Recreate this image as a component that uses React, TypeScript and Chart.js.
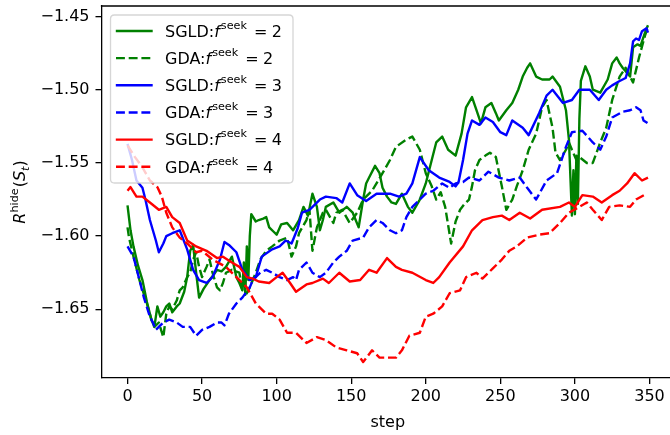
import React, { useEffect, useRef } from 'react';
import { Chart, registerables } from 'chart.js';

Chart.register(...registerables);

const FONT = 'DejaVu Sans';

const xTicks = [0, 50, 100, 150, 200, 250, 300, 350];
const yTicks = [-1.65, -1.6, -1.55, -1.5, -1.45];
const xLabel = 'step';

const legendMethods = ['SGLD', 'GDA', 'SGLD', 'GDA', 'SGLD', 'GDA'];
const legendSeek = ['2', '2', '3', '3', '4', '4'];
const seriesColors = ['#008000', '#008000', '#0000ff', '#0000ff', '#ff0000', '#ff0000'];
const seriesDashed = [false, true, false, true, false, true];

const sgld2: number[][] = [
  [0, -1.579], [2, -1.596], [4, -1.607], [7, -1.62], [10, -1.63], [13, -1.645], [16, -1.657], [18, -1.662],
  [20, -1.648], [22, -1.655], [24, -1.652], [26, -1.648], [28, -1.646], [30, -1.652], [33, -1.648], [35, -1.646],
  [38, -1.638], [40, -1.628], [42, -1.61], [44, -1.606], [46, -1.625], [48, -1.642], [51, -1.636], [55, -1.63],
  [58, -1.626], [60, -1.623], [63, -1.624], [66, -1.621], [70, -1.614], [73, -1.628], [75, -1.632], [77, -1.637],
  [78, -1.618], [79, -1.64], [80, -1.607], [81, -1.63], [82, -1.6], [83, -1.585], [86, -1.59], [88, -1.589],
  [91, -1.588], [93, -1.587], [95, -1.594], [98, -1.597], [100, -1.599], [103, -1.592], [107, -1.591], [111, -1.596],
  [115, -1.589], [118, -1.58], [121, -1.586], [124, -1.571], [127, -1.58], [129, -1.596], [131, -1.589], [133, -1.58],
  [138, -1.577], [142, -1.584], [147, -1.58], [151, -1.584], [155, -1.594], [158, -1.575], [160, -1.564], [162, -1.56],
  [166, -1.552], [169, -1.557], [171, -1.567], [174, -1.573], [177, -1.577], [180, -1.578], [184, -1.571], [188, -1.58],
  [191, -1.584], [196, -1.575], [200, -1.564], [204, -1.548], [207, -1.536], [211, -1.532], [215, -1.541], [220, -1.545],
  [224, -1.53], [227, -1.512], [231, -1.505], [234, -1.514], [237, -1.523], [240, -1.512], [244, -1.509], [247, -1.516],
  [249, -1.521], [254, -1.514], [258, -1.509], [262, -1.5], [265, -1.491], [268, -1.485], [270, -1.482], [274, -1.491],
  [278, -1.493], [283, -1.493], [285, -1.491], [290, -1.498], [294, -1.514], [296, -1.534], [297, -1.56], [298, -1.586],
  [299, -1.555], [300, -1.585], [301, -1.545], [302, -1.578], [303, -1.52], [304, -1.494], [307, -1.484], [310, -1.491],
  [312, -1.5], [317, -1.502], [322, -1.493], [325, -1.482], [328, -1.478], [330, -1.482], [332, -1.485], [337, -1.491],
  [339, -1.471], [342, -1.469], [344, -1.47], [347, -1.461], [349, -1.456],
];

const gda2: number[][] = [
  [0, -1.594], [1, -1.601], [4, -1.614], [8, -1.63], [13, -1.646], [16, -1.657], [18, -1.662], [21, -1.659],
  [24, -1.669], [26, -1.653], [28, -1.648], [30, -1.65], [33, -1.644], [35, -1.637], [37, -1.635], [40, -1.628],
  [42, -1.625], [44, -1.616], [46, -1.611], [48, -1.621], [50, -1.628], [53, -1.621], [55, -1.616], [57, -1.625],
  [60, -1.635], [62, -1.637], [64, -1.632], [66, -1.625], [70, -1.623], [75, -1.625], [77, -1.637], [80, -1.639],
  [82, -1.635], [86, -1.625], [89, -1.616], [93, -1.61], [97, -1.607], [102, -1.603], [107, -1.601], [110, -1.614],
  [113, -1.607], [115, -1.598], [120, -1.589], [122, -1.582], [124, -1.61], [127, -1.594], [131, -1.584], [133, -1.582],
  [138, -1.591], [140, -1.584], [144, -1.582], [149, -1.591], [154, -1.584], [158, -1.575], [164, -1.569], [171, -1.557],
  [176, -1.548], [180, -1.539], [187, -1.534], [191, -1.532], [196, -1.541], [200, -1.557], [204, -1.566], [207, -1.575],
  [210, -1.57], [213, -1.58], [217, -1.605], [220, -1.59], [223, -1.582], [226, -1.578], [229, -1.575], [231, -1.566],
  [233, -1.555], [236, -1.548], [240, -1.545], [243, -1.543], [247, -1.546], [251, -1.566], [254, -1.582], [258, -1.575],
  [261, -1.566], [265, -1.555], [269, -1.541], [274, -1.53], [278, -1.512], [281, -1.507], [285, -1.526], [287, -1.543],
  [290, -1.548], [294, -1.541], [296, -1.536], [298, -1.541], [301, -1.548], [303, -1.546], [308, -1.55], [312, -1.55],
  [317, -1.536], [321, -1.526], [325, -1.507], [330, -1.491], [334, -1.485], [337, -1.491], [339, -1.495], [343, -1.478],
  [347, -1.463], [349, -1.457],
];

const sgld3: number[][] = [
  [0, -1.537], [3, -1.548], [6, -1.562], [10, -1.567], [12, -1.575], [15, -1.589], [17, -1.596], [19, -1.603],
  [21, -1.611], [24, -1.605], [26, -1.6], [30, -1.598], [35, -1.596], [40, -1.609], [44, -1.623], [48, -1.63],
  [53, -1.632], [57, -1.628], [62, -1.616], [65, -1.604], [68, -1.606], [73, -1.611], [77, -1.623], [82, -1.63],
  [86, -1.628], [90, -1.614], [97, -1.609], [102, -1.607], [106, -1.603], [110, -1.605], [114, -1.595], [117, -1.584],
  [122, -1.582], [129, -1.575], [133, -1.573], [140, -1.574], [144, -1.577], [149, -1.564], [154, -1.572], [160, -1.576],
  [167, -1.571], [176, -1.571], [182, -1.573], [187, -1.571], [191, -1.564], [196, -1.546], [202, -1.555], [209, -1.56],
  [216, -1.563], [220, -1.566], [222, -1.563], [225, -1.548], [228, -1.53], [231, -1.521], [236, -1.524], [240, -1.519],
  [245, -1.522], [250, -1.529], [254, -1.531], [258, -1.521], [265, -1.526], [269, -1.531], [276, -1.516], [281, -1.504],
  [285, -1.5], [292, -1.509], [298, -1.507], [303, -1.5], [310, -1.5], [316, -1.507], [321, -1.5], [325, -1.497],
  [330, -1.494], [334, -1.492], [337, -1.482], [339, -1.467], [341, -1.465], [343, -1.466], [345, -1.46], [348, -1.458],
  [349, -1.461],
];

const gda3: number[][] = [
  [0, -1.607], [4, -1.614], [8, -1.63], [11, -1.642], [15, -1.655], [17, -1.659], [19, -1.664], [22, -1.661],
  [24, -1.659], [28, -1.657], [33, -1.659], [37, -1.662], [42, -1.662], [46, -1.668], [50, -1.664], [55, -1.662],
  [60, -1.659], [63, -1.659], [65, -1.661], [68, -1.653], [73, -1.646], [77, -1.642], [82, -1.635], [84, -1.63],
  [89, -1.625], [93, -1.623], [97, -1.625], [102, -1.628], [107, -1.63], [111, -1.628], [113, -1.63], [115, -1.623],
  [120, -1.618], [124, -1.625], [129, -1.628], [133, -1.625], [138, -1.618], [142, -1.614], [147, -1.61], [151, -1.603],
  [158, -1.601], [162, -1.594], [167, -1.589], [171, -1.591], [176, -1.596], [180, -1.598], [184, -1.596], [187, -1.587],
  [191, -1.58], [196, -1.575], [200, -1.571], [205, -1.569], [211, -1.564], [216, -1.567], [220, -1.564], [225, -1.563],
  [229, -1.56], [236, -1.562], [242, -1.556], [249, -1.56], [256, -1.562], [263, -1.56], [268, -1.567], [274, -1.575],
  [281, -1.562], [288, -1.557], [294, -1.539], [298, -1.529], [305, -1.528], [312, -1.536], [317, -1.541], [321, -1.532],
  [325, -1.519], [332, -1.515], [337, -1.514], [341, -1.512], [344, -1.514], [346, -1.521], [349, -1.523],
];

const sgld4: number[][] = [
  [0, -1.569], [2, -1.5665], [6, -1.573], [10, -1.573], [15, -1.577], [21, -1.582], [26, -1.58], [30, -1.587],
  [35, -1.591], [40, -1.603], [46, -1.607], [53, -1.61], [60, -1.615], [64, -1.614], [70, -1.618], [75, -1.621],
  [80, -1.628], [84, -1.629], [88, -1.631], [95, -1.632], [100, -1.628], [104, -1.625], [109, -1.632], [113, -1.638],
  [120, -1.633], [124, -1.632], [131, -1.629], [135, -1.632], [142, -1.625], [149, -1.631], [156, -1.63], [162, -1.623],
  [167, -1.625], [174, -1.615], [180, -1.621], [184, -1.623], [191, -1.625], [200, -1.63], [205, -1.632], [209, -1.628],
  [216, -1.618], [225, -1.607], [231, -1.596], [238, -1.589], [245, -1.587], [251, -1.586], [256, -1.589], [263, -1.584],
  [270, -1.588], [278, -1.582], [290, -1.58], [296, -1.577], [300, -1.58], [305, -1.572], [312, -1.573], [318, -1.577],
  [325, -1.572], [330, -1.569], [335, -1.564], [340, -1.557], [345, -1.562], [349, -1.56],
];

const gda4: number[][] = [
  [0, -1.538], [5, -1.546], [10, -1.553], [15, -1.562], [20, -1.5665], [23, -1.573], [26, -1.584], [30, -1.594],
  [35, -1.601], [40, -1.605], [46, -1.611], [50, -1.61], [57, -1.616], [66, -1.621], [73, -1.628], [80, -1.635],
  [86, -1.646], [93, -1.653], [97, -1.653], [102, -1.657], [107, -1.666], [113, -1.666], [120, -1.673], [127, -1.669],
  [133, -1.671], [140, -1.676], [147, -1.678], [154, -1.68], [158, -1.686], [164, -1.678], [169, -1.683], [174, -1.683],
  [180, -1.683], [184, -1.678], [189, -1.668], [196, -1.666], [200, -1.655], [205, -1.653], [211, -1.648], [216, -1.639],
  [223, -1.637], [227, -1.628], [234, -1.625], [238, -1.629], [245, -1.622], [251, -1.616], [256, -1.61], [261, -1.607],
  [268, -1.601], [276, -1.599], [283, -1.598], [290, -1.591], [296, -1.584], [303, -1.58], [308, -1.577], [312, -1.582],
  [318, -1.589], [323, -1.58], [330, -1.579], [337, -1.58], [341, -1.575], [348, -1.571],
];

const allSeries = [sgld2, gda2, sgld3, gda3, sgld4, gda4];

function seg(ctx: CanvasRenderingContext2D, x: number, y: number, text: string, size: number, italic = false) {
  ctx.font = `${italic ? 'italic ' : ''}${size}px "${FONT}"`;
  ctx.fillText(text, x, y);
  return ctx.measureText(text).width;
}

function segWidth(ctx: CanvasRenderingContext2D, text: string, size: number, italic = false) {
  ctx.font = `${italic ? 'italic ' : ''}${size}px "${FONT}"`;
  return ctx.measureText(text).width;
}

const decorPlugin = {
  id: 'decor',
  afterDatasetsDraw(chart: any) {
    const ctx: CanvasRenderingContext2D = chart.ctx;
    const ca = chart.chartArea;
    ctx.save();
    // top and right spines
    ctx.strokeStyle = '#000';
    ctx.lineWidth = 1.3;
    ctx.setLineDash([]);
    ctx.beginPath();
    ctx.moveTo(ca.left - 0.65, ca.top);
    ctx.lineTo(ca.right, ca.top);
    ctx.moveTo(ca.right, ca.top);
    ctx.lineTo(ca.right, ca.bottom);
    ctx.stroke();

    // legend box
    const bx = 110.5, by = 15, bw = 182.5, bh = 168, r = 4;
    ctx.beginPath();
    ctx.moveTo(bx + r, by);
    ctx.lineTo(bx + bw - r, by);
    ctx.quadraticCurveTo(bx + bw, by, bx + bw, by + r);
    ctx.lineTo(bx + bw, by + bh - r);
    ctx.quadraticCurveTo(bx + bw, by + bh, bx + bw - r, by + bh);
    ctx.lineTo(bx + r, by + bh);
    ctx.quadraticCurveTo(bx, by + bh, bx, by + bh - r);
    ctx.lineTo(bx, by + r);
    ctx.quadraticCurveTo(bx, by, bx + r, by);
    ctx.closePath();
    ctx.fillStyle = 'rgba(255,255,255,0.8)';
    ctx.fill();
    ctx.strokeStyle = 'rgba(204,204,204,0.8)';
    ctx.lineWidth = 1.3;
    ctx.stroke();

    for (let i = 0; i < legendMethods.length; i++) {
      const rowY = 31 + i * 27.15;
      ctx.beginPath();
      ctx.strokeStyle = seriesColors[i];
      ctx.lineWidth = 2.4;
      if (seriesDashed[i]) {
        ctx.setLineDash([8.9, 3.8]);
        ctx.lineCap = 'butt';
        ctx.moveTo(116, rowY);
        ctx.lineTo(152, rowY);
      } else {
        ctx.setLineDash([]);
        ctx.lineCap = 'square';
        ctx.moveTo(117, rowY);
        ctx.lineTo(151.5, rowY);
      }
      ctx.stroke();
      ctx.setLineDash([]);
      ctx.lineCap = 'butt';

      const base = rowY + 5.8;
      ctx.fillStyle = '#000';
      ctx.textAlign = 'left';
      ctx.textBaseline = 'alphabetic';
      let x = 165;
      x += seg(ctx, x, base, legendMethods[i] + ':', 16);
      x += seg(ctx, x, base, 'f', 16, true) + 1;
      x += seg(ctx, x, base - 8, 'seek', 11.2);
      x += 7;
      x += seg(ctx, x, base, '=', 16);
      x += 4.5;
      seg(ctx, x, base, legendSeek[i], 16);
    }

    // y label: R^{hide}(S_t)
    const parts: { t: string; s: number; it: boolean; dy: number }[] = [
      { t: 'R', s: 16, it: true, dy: 0 },
      { t: 'hide', s: 11.2, it: false, dy: -7 },
      { t: '(', s: 16, it: false, dy: 0 },
      { t: 'S', s: 16, it: true, dy: 0 },
      { t: 't', s: 11.2, it: true, dy: 3.5 },
      { t: ')', s: 16, it: false, dy: 0 },
    ];
    let total = 0;
    for (const p of parts) total += segWidth(ctx, p.t, p.s, p.it) + (p.t === 'hide' ? 1 : 0);
    ctx.save();
    ctx.translate(25, (ca.top + ca.bottom) / 2);
    ctx.rotate(-Math.PI / 2);
    let px = -total / 2;
    for (const p of parts) {
      px += seg(ctx, px, p.dy, p.t, p.s, p.it) + (p.t === 'hide' ? 1 : 0);
    }
    ctx.restore();

    // x label
    ctx.font = `16px "${FONT}"`;
    ctx.textAlign = 'center';
    ctx.textBaseline = 'alphabetic';
    ctx.fillStyle = '#000';
    ctx.fillText(xLabel, (ca.left + ca.right) / 2, 427);
    ctx.restore();
  },
};

function fmt(v: number) {
  const s = Math.abs(v).toFixed(2);
  return v < 0 ? '\u2212' + s : s;
}

export default function App() {
  const ref = useRef<HTMLCanvasElement>(null);
  useEffect(() => {
    if (!ref.current) return;
    Chart.defaults.font.family = `"${FONT}"`;
    const datasets = allSeries.map((s, i) => ({
      label: legendMethods[i] + legendSeek[i],
      data: s.map(([x, y]) => ({ x, y })),
      borderColor: seriesColors[i],
      backgroundColor: seriesColors[i],
      borderWidth: 2.4,
      borderDash: seriesDashed[i] ? [8.9, 3.8] : [],
      borderJoinStyle: 'round' as const,
      pointRadius: 0,
      tension: 0,
      fill: false,
      order: allSeries.length - i,
    }));
    const chart = new Chart(ref.current, {
      type: 'line',
      data: { datasets },
      options: {
        responsive: false,
        devicePixelRatio: 1,
        animation: false,
        layout: { padding: { left: 0.5, right: 2, top: 6, bottom: 0 } },
        plugins: { legend: { display: false }, tooltip: { enabled: false } },
        scales: {
          x: {
            type: 'linear',
            min: -17.45,
            max: 366.45,
            afterBuildTicks: (s: any) => {
              s.ticks = xTicks.map((v) => ({ value: v }));
            },
            afterFit: (s: any) => {
              s.height = 57;
              s.paddingLeft = 0;
              s.paddingRight = 0;
            },
            ticks: {
              autoSkip: false,
              maxRotation: 0,
              padding: 3,
              color: '#000',
              font: { size: 16, family: `"${FONT}"` },
              callback: (v: any) => String(v),
            },
            grid: {
              drawOnChartArea: false,
              drawTicks: true,
              tickLength: 6,
              color: '#000',
              lineWidth: 1.3,
              tickWidth: 1.3,
            },
            border: { display: true, color: '#000', width: 1.3 },
          },
          y: {
            type: 'linear',
            min: -1.6969,
            max: -1.4428,
            afterBuildTicks: (s: any) => {
              s.ticks = yTicks.map((v) => ({ value: v }));
            },
            afterFit: (s: any) => {
              s.width = 101;
              s.paddingTop = 0;
              s.paddingBottom = 0;
            },
            ticks: {
              autoSkip: false,
              padding: 6,
              color: '#000',
              font: { size: 16, family: `"${FONT}"` },
              callback: (v: any) => fmt(Number(v)),
            },
            grid: {
              drawOnChartArea: false,
              drawTicks: true,
              tickLength: 6,
              color: '#000',
              lineWidth: 1.3,
              tickWidth: 1.3,
            },
            border: { display: true, color: '#000', width: 1.3 },
          },
        },
      },
      plugins: [decorPlugin],
    } as any);
    return () => chart.destroy();
  }, []);
  return (
    <div
      style={{
        position: 'fixed',
        left: 0,
        top: 0,
        width: 670,
        height: 435,
        overflow: 'hidden',
        background: '#fff',
      }}
    >
      <canvas ref={ref} width={676} height={435} style={{ display: 'block', width: 676, height: 435 }} />
    </div>
  );
}
